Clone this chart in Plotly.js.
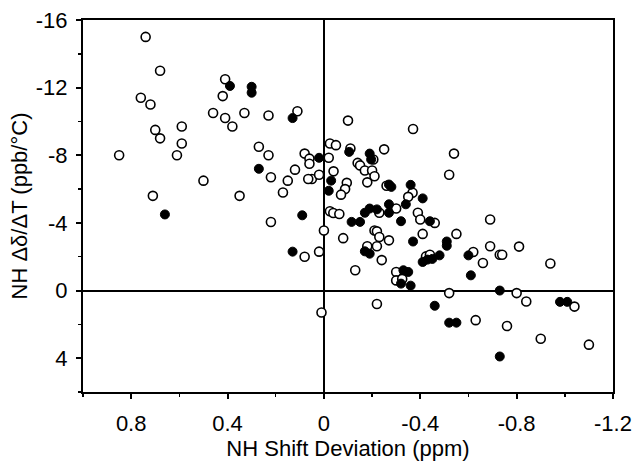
<!DOCTYPE html>
<html>
<head>
<meta charset="utf-8">
<script src="https://cdn.plot.ly/plotly-3.0.1.min.js"></script>
<style>html,body{margin:0;padding:0;background:#fff;}#chart{width:632px;height:462px;}</style>
</head>
<body>
<div id="chart"></div>
<script>
// Open circles: NH shift deviation (ppm) and temperature coefficient (ppb/°C)
const openX = [0.74,0.68,0.76,0.72,0.70,0.68,0.59,0.59,0.61,0.85,0.50,0.71,0.41,0.42,0.46,0.41,0.38,0.33,0.23,0.11,
  0.27,0.23,0.22,0.15,0.12,0.17,0.35,0.22,0.08,0.06,0.06,0.05,0.065,0.02,-0.025,-0.05,0.08,0.02,0.0,0.01,
  -0.10,-0.37,-0.25,-0.11,-0.02,-0.14,-0.15,-0.17,-0.205,-0.20,-0.21,-0.18,-0.04,-0.095,-0.088,-0.071,-0.368,-0.35,-0.54,-0.52,
  -0.025,-0.039,-0.064,-0.26,-0.30,-0.23,-0.39,-0.40,-0.46,-0.41,-0.55,-0.69,-0.08,-0.21,-0.22,-0.23,-0.27,-0.18,-0.22,-0.24,
  -0.13,-0.424,-0.44,-0.62,-0.66,-0.69,-0.73,-0.74,-0.81,-0.94,-0.30,-0.30,-0.325,-0.52,-0.80,-0.84,-1.04,-0.22,-0.63,-0.76,
  -0.90,-1.10];
const openY = [-15.0,-13.0,-11.4,-11.0,-9.5,-9.0,-9.7,-8.7,-8.0,-8.0,-6.5,-5.6,-12.5,-11.5,-10.5,-10.2,-9.7,-10.5,-10.35,-10.6,
  -8.5,-8.0,-6.7,-6.5,-7.15,-5.8,-5.6,-4.05,-8.1,-7.8,-7.5,-6.6,-6.6,-6.85,-8.7,-8.6,-2.0,-2.3,-3.55,1.3,
  -10.05,-9.55,-8.35,-8.4,-7.85,-7.55,-7.4,-7.1,-7.75,-7.1,-6.76,-6.4,-7.05,-6.37,-6.0,-5.67,-5.78,-5.54,-8.1,-6.85,
  -4.69,-4.59,-4.53,-6.2,-4.85,-4.6,-4.6,-4.2,-4.0,-3.35,-3.35,-4.2,-3.1,-3.55,-3.5,-3.17,-2.97,-2.62,-2.62,-1.8,
  -1.2,-2.02,-2.12,-2.28,-1.63,-2.62,-2.12,-2.12,-2.6,-1.6,-1.1,-0.6,-0.69,0.15,0.15,0.65,0.95,0.8,1.75,2.1,
  2.85,3.2];
// Filled circles
const filledX = [0.66,0.39,0.30,0.30,0.13,0.27,0.09,0.02,-0.03,-0.02,0.13,-0.105,-0.19,-0.196,-0.27,-0.28,-0.36,-0.41,
  -0.17,-0.19,-0.22,-0.27,-0.27,-0.34,-0.32,-0.115,-0.15,-0.44,-0.37,-0.51,-0.51,-0.17,-0.19,-0.41,-0.43,-0.45,-0.48,
  -0.60,-0.61,-0.33,-0.35,-0.32,-0.36,-0.73,-0.98,-1.01,-0.46,-0.52,-0.55,-0.73];
const filledY = [-4.5,-12.1,-12.05,-11.7,-10.2,-7.2,-4.45,-7.85,-6.5,-5.9,-2.3,-8.2,-8.1,-7.75,-6.27,-6.13,-6.25,-5.45,
  -4.6,-4.85,-4.8,-5.1,-4.6,-5.1,-4.1,-4.06,-4.06,-4.1,-2.9,-2.9,-2.65,-2.32,-2.18,-1.69,-1.83,-1.87,-2.08,
  -2.08,-0.9,-1.2,-1.1,-0.41,-0.29,0.0,0.67,0.67,0.9,1.9,1.9,3.9];
const xTicks = [0.8,0.4,0,-0.4,-0.8,-1.2];
const xTickText = ["0.8","0.4","0","-0.4","-0.8","-1.2"];
const yTicks = [-16,-12,-8,-4,0,4];
const yTickText = ["-16","-12","-8","-4","0","4"];

const FONT = "Liberation Sans, Arial, sans-serif";
const traces = [
  {x: openX, y: openY, type: "scatter", mode: "markers", name: "open",
   marker: {symbol: "circle", size: 9, color: "#ffffff", line: {color: "#000000", width: 1.6}}},
  {x: filledX, y: filledY, type: "scatter", mode: "markers", name: "filled",
   marker: {symbol: "circle", size: 9, color: "#000000", line: {color: "#000000", width: 1}}}
];
const axisCommon = {
  showgrid: false, zeroline: true, zerolinecolor: "#000", zerolinewidth: 2,
  showline: true, linecolor: "#000", linewidth: 2, mirror: true,
  ticks: "outside", ticklen: 5, tickwidth: 2, tickcolor: "#000",
  tickfont: {family: FONT, size: 22, color: "#000"},
  minor: {ticks: "outside", ticklen: 3, tickwidth: 1.5, tickcolor: "#000"}
};
const layout = {
  width: 632, height: 462,
  margin: {l: 83, r: 19, t: 20, b: 70},
  paper_bgcolor: "#fff", plot_bgcolor: "#fff",
  showlegend: false,
  font: {family: FONT, color: "#000"},
  xaxis: Object.assign({}, axisCommon, {
    range: [1.0, -1.2], tickmode: "array", tickvals: xTicks, ticktext: xTickText,
    minor: Object.assign({}, axisCommon.minor, {tickmode: "linear", tick0: 0, dtick: 0.2}),
    ticklabelstandoff: 6,
    title: {text: "NH Shift Deviation (ppm)", font: {family: FONT, size: 22, color: "#000"}, standoff: 2}
  }),
  yaxis: Object.assign({}, axisCommon, {
    range: [6, -16], tickmode: "array", tickvals: yTicks, ticktext: yTickText,
    minor: Object.assign({}, axisCommon.minor, {tickmode: "linear", tick0: 0, dtick: 2}),
    ticklabelstandoff: 4,
    title: {text: "NH Δδ/ΔT (ppb/°C)", font: {family: FONT, size: 22, color: "#000"}, standoff: 2}
  })
};
Plotly.newPlot("chart", traces, layout, {displayModeBar: false, staticPlot: true});
</script>
</body>
</html>
